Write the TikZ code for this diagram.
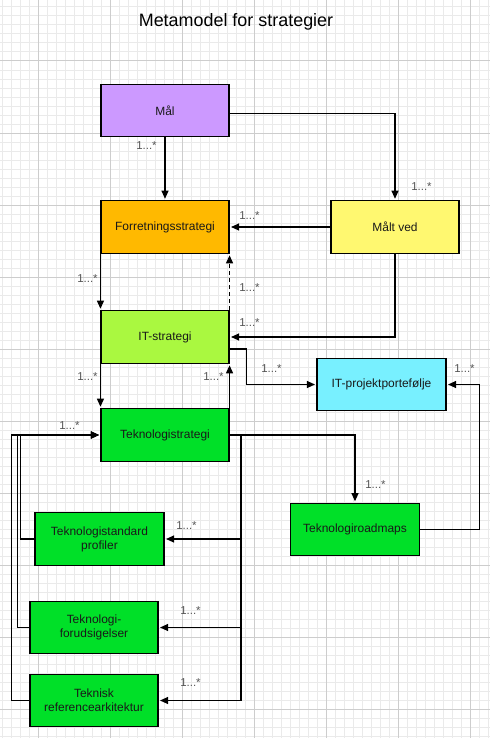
\documentclass[tikz,border=0pt]{standalone}
\usepackage{fontspec}
\setmainfont{Liberation Sans}
\usetikzlibrary{arrows.meta}
\definecolor{gridminor}{RGB}{234,234,234}
\definecolor{gridmajor}{RGB}{205,205,205}
\definecolor{cmal}{RGB}{204,153,255}
\definecolor{cforr}{RGB}{255,185,0}
\definecolor{cmalt}{RGB}{255,248,112}
\definecolor{cits}{RGB}{170,248,64}
\definecolor{citp}{RGB}{120,240,255}
\definecolor{cgreen}{RGB}{0,224,40}
\definecolor{labelgray}{RGB}{85,85,85}
\tikzset{
  box/.style={draw=black, line width=1.1bp, minimum width=128bp, minimum height=52.5bp, inner sep=2bp, align=center, font=\fontsize{12}{14}\selectfont, text=black!90},
  conn/.style={draw=black, line width=1.1bp, -{Triangle[length=8bp,width=7bp]}, shorten >=1.5bp},
  plainline/.style={draw=black, line width=1.1bp},
  mult/.style={font=\fontsize{11.5}{13}\selectfont, text=labelgray, inner sep=0pt},
  minorgrid/.style={draw=gridminor, line width=1bp},
  majorgrid/.style={draw=gridmajor, line width=1bp},
}
\begin{document}
\begin{tikzpicture}[x=1bp, y=-1bp]
\useasboundingbox (0,0) rectangle (490,738);
\fill[white] (0,0) rectangle (490,738);
% grid
\foreach \x in {2.5,11.5,...,489.5} \draw[minorgrid] (\x,0) -- (\x,738);
\foreach \y in {7,16,...,736} \draw[minorgrid] (0,\y) -- (490,\y);
\foreach \x in {38.5,110.5,...,470.5} \draw[majorgrid] (\x,0) -- (\x,738);
\foreach \y in {61,133,...,709} \draw[majorgrid] (0,\y) -- (490,\y);

% title
\node[font=\fontsize{18}{22}\selectfont, anchor=base] (title) at (236,27) {Metamodel for strategier};

% boxes
\node[box, fill=cmal] (mal) at (165,110.5) {Mål};
\node[box, fill=cforr] (forr) at (165,227) {Forretningsstrategi};
\node[box, fill=cmalt] (malt) at (395,227) {Målt ved};
\node[box, fill=cits] (its) at (165,337) {IT-strategi};
\node[box, fill=citp, minimum width=129bp] (itp) at (381.5,384.5) {IT-projektportefølje};
\node[box, fill=cgreen] (tek) at (165,435) {Teknologistrategi};
\node[box, fill=cgreen, minimum width=129bp] (tsp) at (99.5,539) {Teknologistandard\\profiler};
\node[box, fill=cgreen] (tfo) at (94,627.5) {Teknologi-\\forudsigelser};
\node[box, fill=cgreen] (tra) at (94,700.5) {Teknisk\\referencearkitektur};
\node[box, fill=cgreen, minimum width=129bp] (trm) at (355,529.5) {Teknologiroadmaps};

% helper coordinates
\coordinate (bus) at (241,435);
\coordinate (la) at (20.7,435);
\coordinate (lb) at (17.3,435);
\coordinate (lc) at (11.7,435);

% connectors
\draw[conn] (mal.south) -- (forr.north);
\draw[conn] ([yshift=-3bp]mal.east) -| (malt.north);
\draw[conn] (malt.west) -- (forr.east);
\draw[conn] (malt.south) |- (its.east);
\draw[conn, dash pattern=on 4bp off 3bp] (its.north east) -- (forr.south east);
\draw[conn] (forr.south west) -- (its.north west);
\draw[conn] (its.south west) -- (tek.north west);
\draw[conn] (tek.north east) -- (its.south east);
\draw[conn] ([yshift=-12bp]its.east) -- ++(17,0) |- (itp.west);
\draw[conn] (trm.east) -- ++(59,0) |- (itp.east);
\draw[conn] (tek.east) -| (trm.north);
\draw[plainline] (tek.east) -- (bus);
\draw[conn] (bus) |- (tsp.east);
\draw[conn] (bus) |- (tfo.east);
\draw[conn] (bus) |- (tra.east);
\draw[conn] (tsp.west) -| (la) -- (tek.west);
\draw[conn] (tfo.west) -| (lb) -- (tek.west);
\draw[conn] (tra.west) -| (lc) -- (tek.west);

% multiplicity labels
\node[mult] (m1) at (146.5,146) {1...*};
\node[mult] (m2) at (421.5,186.5) {1...*};
\node[mult] (m3) at (249.5,215.5) {1...*};
\node[mult] (m4) at (249.5,322.5) {1...*};
\node[mult] (m5) at (249.5,287.5) {1...*};
\node[mult] (m6) at (87.5,278.5) {1...*};
\node[mult] (m7) at (87.5,376.5) {1...*};
\node[mult] (m8) at (213.5,376.5) {1...*};
\node[mult] (m9) at (271.5,368.5) {1...*};
\node[mult] (m10) at (464.5,368.5) {1...*};
\node[mult] (m11) at (375.5,484.5) {1...*};
\node[mult] (m12) at (186.5,525.5) {1...*};
\node[mult] (m13) at (190.5,610.5) {1...*};
\node[mult] (m14) at (190.5,682.5) {1...*};
\node[mult] (m15) at (69.5,425.5) {1...*};
\end{tikzpicture}
\end{document}
